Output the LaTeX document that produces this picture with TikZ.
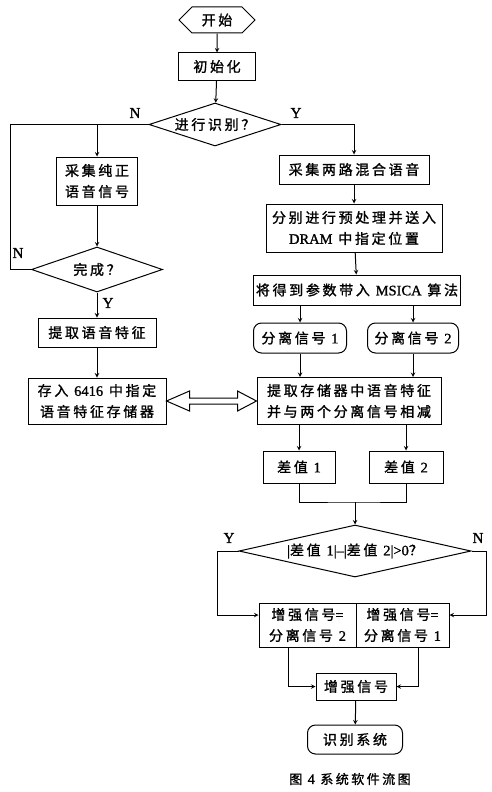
\documentclass[tikz,border=0pt]{standalone}
\usepackage{fontspec}
\setmainfont[FakeBold=1.2]{Liberation Serif}
\newfontfamily\cjk[LetterSpace=19,FakeBold=1.3]{Noto Sans CJK SC}
\usetikzlibrary{shapes.geometric,shapes.symbols}
\newcommand\latn[1]{{\rmfamily\fontsize{14.5}{21}\selectfont #1}}

\begin{document}
\begin{tikzpicture}[x=1pt,y=-1pt,>=stealth,line width=1pt]
\tikzset{boite/.style={draw, rectangle, inner sep=2pt, align=center, font=\cjk\fontsize{14}{21}\selectfont}}
\tikzset{arrondi/.style={boite, rounded corners=8pt}}
\tikzset{losange/.style={draw, diamond, inner sep=0pt, aspect=3, font=\cjk\fontsize{14}{16}\selectfont}}
\tikzset{hexa/.style={boite, signal, signal to=west and east, signal pointer angle=90}}
\tikzset{lettre/.style={inner sep=0pt, font=\fontsize{15}{17}\selectfont}}
\useasboundingbox (0,0) rectangle (492,792);
\node[hexa, minimum width=76pt, minimum height=26pt] (S) at (217,20) {开始};
\node[boite, minimum width=77pt, minimum height=27pt] (B1) at (217,66.5) {初始化};
\node[losange, minimum width=132pt, minimum height=43pt] (D1) at (215,124.5) {进行识别？};
\node[boite, minimum width=81pt, minimum height=48pt] (B2) at (97,181) {采集纯正\\语音信号};
\node[losange, minimum width=131pt, minimum height=45pt] (D2) at (97,269.5) {完成？};
\node[boite, minimum width=118pt, minimum height=29pt] (B4) at (97,332.5) {提取语音特征};
\node[boite, minimum width=138pt, minimum height=46pt] (B6) at (97,401) {存入 \latn{6416} 中指定\\语音特征存储器};
\node[boite, minimum width=150pt, minimum height=29pt] (B3) at (354,169.5) {采集两路混合语音};
\node[boite, minimum width=176pt, minimum height=48pt] (B5) at (354,228) {分别进行预处理并送入\\\latn{DRAM} 中指定位置};
\node[boite, minimum width=204pt, minimum height=30pt] (B7) at (357,290) {将得到参数带入 \latn{MSICA} 算法};
\node[arrondi, minimum width=93pt, minimum height=30pt] (R1) at (300,338) {分离信号 \latn{1}};
\node[arrondi, minimum width=91pt, minimum height=30pt] (R2) at (413,338) {分离信号 \latn{2}};
\node[boite, minimum width=184pt, minimum height=47pt] (B8) at (349,401) {提取存储器中语音特征\\并与两个分离信号相减};
\node[boite, minimum width=72pt, minimum height=32pt] (B9) at (299,467) {差值 \latn{1}};
\node[boite, minimum width=74pt, minimum height=32pt] (B10) at (406,467) {差值 \latn{2}};
\node[losange, aspect=4, minimum width=232pt, minimum height=52pt] (D3) at (355,551) {\latn{|}差值 \latn{1|--|}差值 \latn{2|>0}？};
\node[boite, minimum width=97pt, minimum height=44pt] (C1) at (307.5,625) {增强信号\latn{=}\\分离信号 \latn{2}};
\node[boite, minimum width=93pt, minimum height=44pt] (C2) at (402.5,625) {增强信号\latn{=}\\分离信号 \latn{1}};
\node[boite, minimum width=80pt, minimum height=27pt] (B11) at (356,686.5) {增强信号};
\node[arrondi, minimum width=95pt, minimum height=29pt] (R3) at (355,739.5) {识别系统};
\node[font=\cjk\fontsize{13}{15}\selectfont] (T) at (350,779) {图 \latn{4} 系统软件流图};
\node[lettre] (n1) at (135,113) {N};
\node[lettre] (y1) at (296,113) {Y};
\node[lettre] (n2) at (18,253) {N};
\node[lettre] (y2) at (108,303) {Y};
\node[lettre] (y3) at (229,538) {Y};
\node[lettre] (n3) at (478,538) {N};
\coordinate (K) at (10,124.5);
\coordinate (M) at (355,502);
\coordinate (P1) at (217,615);
\coordinate (P2) at (486,615);
\draw[->] (S) -- (B1);
\draw[->] (B1) -- (D1);
\draw[->] (D1.west) -| (B2.north);
\draw (D2.west) -| (K) -- (D1.west);
\draw[->] (D1.east) -| (B3.north);
\draw[->] (B2) -- (D2);
\draw[->] (D2) -- (B4);
\draw[->] (B4) -- (B6);
\draw[->] (B3) -- (B5);
\draw[->] (B5) -- (B7);
\draw[->] (R1.north |- B7.south) -- (R1.north);
\draw[->] (R2.north |- B7.south) -- (R2.north);
\draw[->] (R1.south) -- (R1.south |- B8.north);
\draw[->] (R2.south) -- (R2.south |- B8.north);
\draw[->] (B9.north |- B8.south) -- (B9.north);
\draw[->] (B10.north |- B8.south) -- (B10.north);
\draw (B9.south) |- (M) -| (B10.south);
\draw[->] (M) -- (D3.north);
\draw (B6.east) -- ++(23,-10) -- ++(0,7) -- ++(48,0) -- ++(0,-7) -- (B8.west) -- ++(-19,10) -- ++(0,-7) -- ++(-48,0) -- ++(0,7) -- cycle;
\draw[->] (D3.west) -| (P1) -- (P1 -| C1.west);
\draw[->] (D3.east) -| (P2) -- (P2 -| C2.east);
\draw[->] ([xshift=-19.5pt]C1.south) |- (B11.west);
\draw[->] ([xshift=15.5pt]C2.south) |- (B11.east);
\draw[->] (B11) -- (R3);
\end{tikzpicture}
\end{document}
